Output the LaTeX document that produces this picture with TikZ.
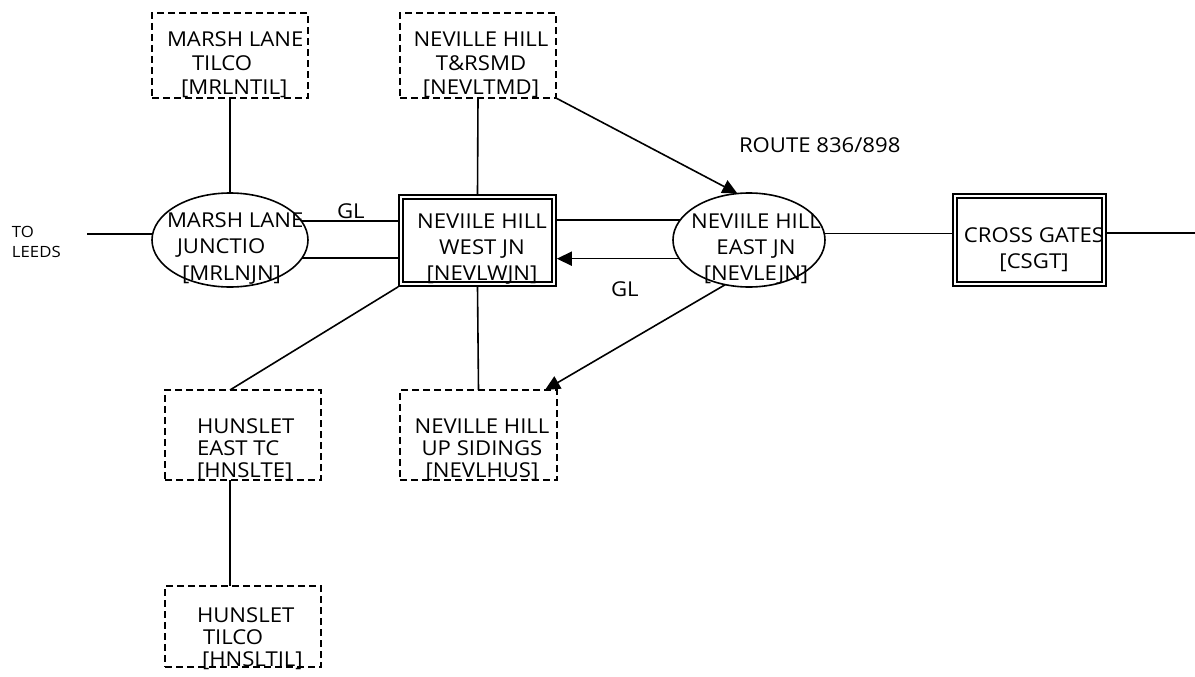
\documentclass[tikz,border=0pt]{standalone}
\usepackage{fontspec}
\setmainfont{Open Sans}[FakeStretch=1.08]
\usetikzlibrary{arrows.meta,shapes.geometric}
\begin{document}
\begin{tikzpicture}[x=1pt,y=-1pt,line width=1.6pt,
  dbox/.style={draw,dash pattern=on 7pt off 4pt,minimum width=156pt,inner sep=0pt,outer sep=0pt},
  ell/.style={draw,ellipse,inner sep=0pt,outer sep=0pt},
  dblbox/.style={draw,double,double distance=2.4pt,inner sep=0pt,outer sep=2.8pt},
  lbl/.style={inner sep=0pt,outer sep=0pt,font=\fontsize{20.5}{24}\selectfont},
  arr/.style={-{Triangle[length=15pt,width=14pt]}}]
\useasboundingbox (0,0) rectangle (1195,677);
% shapes
\node[dbox,minimum height=85pt] (mlt) at (230,55.5) {};
\node[dbox,minimum height=85pt] (nwt) at (478,55.5) {};
\node[dbox,minimum height=90pt] (het) at (243,435) {};
\node[dbox,minimum height=90pt,minimum width=157pt] (nwu) at (478.5,435) {};
\node[dbox,minimum height=81pt] (hti) at (243,626.5) {};
\node[ell,minimum width=156pt,minimum height=94pt] (mlj) at (230,240) {};
\node[ell,minimum width=152pt,minimum height=94pt] (nej) at (749,240) {};
\node[dblbox,minimum width=153pt,minimum height=87pt] (nwj) at (477.5,240.5) {};
\node[dblbox,minimum width=149pt,minimum height=88pt] (csg) at (1029.5,240) {};
\coordinate (leeds) at (87,234);
\coordinate (rend) at (1195,233);
% connectors
\draw (leeds) -- (leeds -| mlj.west);
\draw (mlt.south) -- (mlj.north);
\draw (mlj.15.7) -- (mlj.15.7 -| nwj.west);
\draw (mlj.-14) -- (mlj.-14 -| nwj.west);
\draw (nwt.south) -- (nwj.north);
\draw (nwj.south) -- (nwu.north);
\draw (nwj.south west) -- ([xshift=-13pt]het.north);
\draw ([xshift=-13pt]het.south) -- ([xshift=-13pt]hti.north);
\draw (nej.164.6) -- (nej.164.6 -| nwj.east);
\draw[arr] (nej.195.4) -- (nej.195.4 -| nwj.east);
\draw[arr] (nwt.south east) -- (nej.104.6);
\draw[arr] (nej.242) -- ([xshift=-12pt]nwu.north east);
\draw (nej.5.3) -- (nej.5.3 -| csg.west);
\draw (rend -| csg.east) -- (rend);
% texts (base anchor = baseline of last line)
\node[lbl,anchor=base west,align=left] (mltT) at (167,95) {MARSH LANE\\\hspace*{25pt}TILCO\\\hspace*{14pt}[MRLNTIL]};
\node[lbl,anchor=base,align=center] (nwtT) at (481,95) {NEVILLE HILL\\T\&RSMD\\{[}NEVLTMD]};
\node[lbl,anchor=base west,align=left,font=\fontsize{20.5}{26.5}\selectfont] (mljT) at (167,280) {MARSH LANE\\\hspace*{10pt}JUNCTIO\\\hspace*{15pt}[MRLNJN]};
\node[lbl,anchor=base,align=center,font=\fontsize{20.5}{26}\selectfont] (nwjT) at (482,280) {NEVIILE HILL\\WEST JN\\{[}NEVLWJN]};
\node[lbl,anchor=base,align=center,font=\fontsize{20.5}{26}\selectfont] (nejT) at (756,280) {NEVIILE HILL\\EAST JN\\{[}NEVLEJN]};
\node[lbl,anchor=base,align=center,font=\fontsize{20.5}{26}\selectfont] (csgT) at (1034,268) {CROSS GATES\\{[}CSGT]};
\node[lbl,anchor=base west,align=left,font=\fontsize{20.5}{22}\selectfont] (hetT) at (197,477) {HUNSLET\\EAST TC\\{[}HNSLTE]};
\node[lbl,anchor=base,align=center,font=\fontsize{20.5}{22}\selectfont] (nwuT) at (482,477) {NEVILLE HILL\\UP SIDINGS\\{[}NEVLHUS]};
\node[lbl,anchor=base west,align=left,font=\fontsize{20.5}{22}\selectfont] (htiT) at (197,666) {HUNSLET\\\hspace*{6pt}TILCO\\\hspace*{5pt}[HNSLTIL]};
\node[lbl,anchor=base west] (gl1) at (337,218) {GL};
\node[lbl,anchor=base west] (gl2) at (611,296) {GL};
\node[lbl,anchor=base west] (route) at (739,152) {ROUTE 836/898};
\node[lbl,anchor=base west,align=left,font=\fontsize{15.5}{20}\selectfont] (leedsT) at (12,257) {TO\\LEEDS};
\end{tikzpicture}
\end{document}
